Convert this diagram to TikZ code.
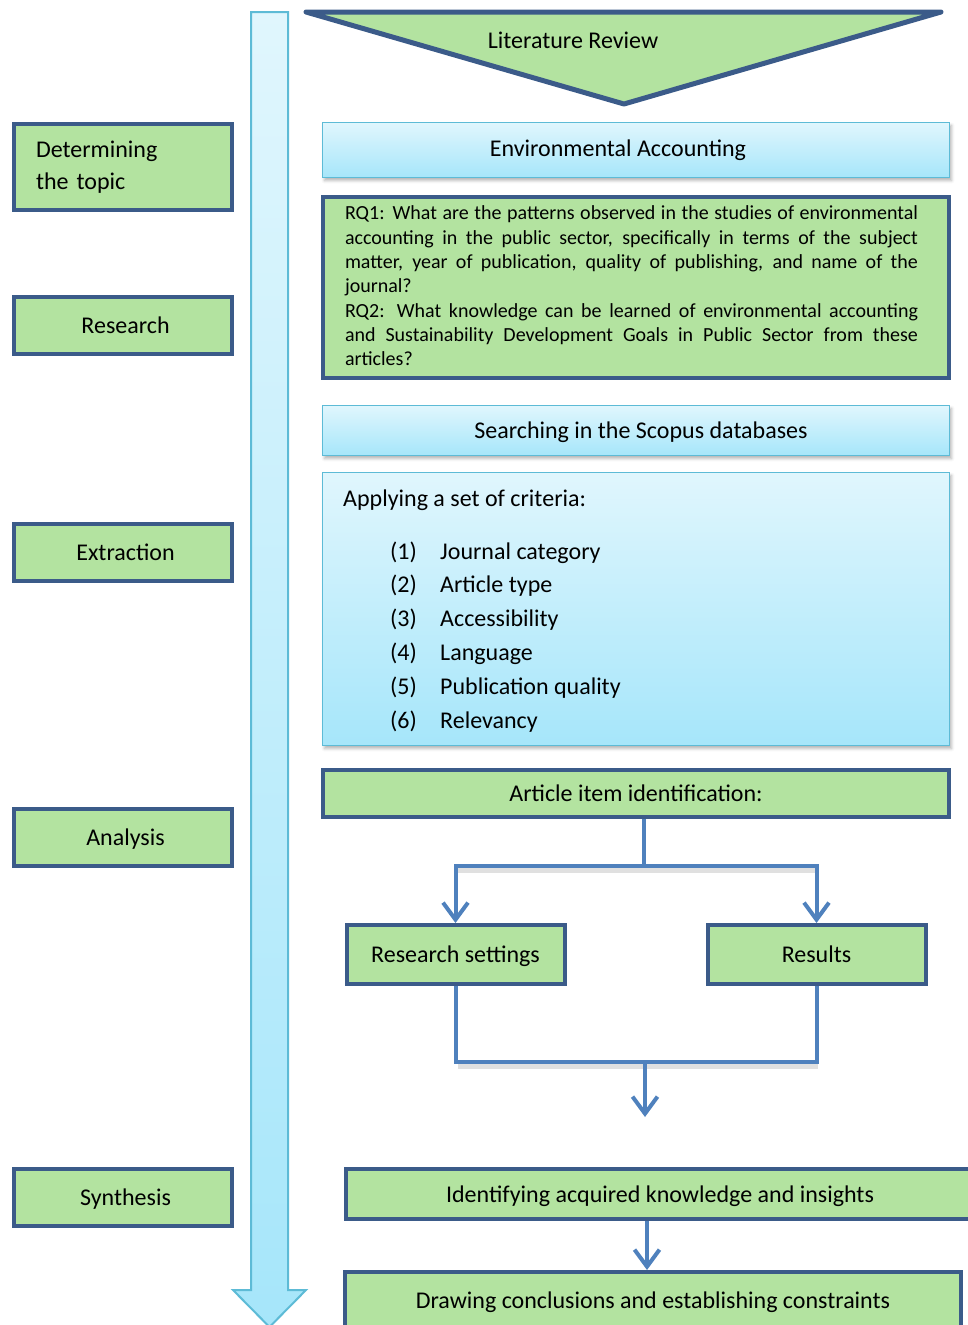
\documentclass[tikz,border=0pt]{standalone}
\usepackage{fontspec}
\setmainfont{Carlito}
\usetikzlibrary{arrows.meta,shadows.blur,calc}
\definecolor{gfill}{HTML}{B3E3A0}
\definecolor{dborder}{HTML}{3B5B89}
\definecolor{connc}{HTML}{4F81BD}
\definecolor{btop}{HTML}{E0F6FD}
\definecolor{bbot}{HTML}{A6E6FA}
\definecolor{bborder}{HTML}{5DBBD6}
\begin{document}
\begin{tikzpicture}[x=1pt,y=-1pt,
  txt/.style={font=\fontsize{24}{29}\selectfont},
  greenbox/.style={draw=dborder, line width=4pt, fill=gfill, inner sep=0pt, txt},
  onel/.style={text depth=0pt},
  bluebox/.style={draw=bborder, line width=1.5pt, top color=btop, bottom color=bbot, inner sep=0pt, txt,
     blur shadow={shadow xshift=2pt, shadow yshift=-3pt, shadow blur radius=3pt, shadow opacity=30}},
  connector/.style={draw=connc, line width=4pt},
  arrowed/.style={connector, -{Straight Barb[length=17pt,width=25pt]}},
  cshadow/.style={draw=black, opacity=0.12, line width=5pt, transform canvas={shift={(2pt,-4pt)}}},
]
\useasboundingbox (0,0) rectangle (967,1325);

% big vertical arrow
\path[draw=bborder, line width=2pt, top color=btop, bottom color=bbot]
  (251,12) -- (288,12) -- (288,1290) -- (306,1290) -- (269.5,1327) -- (233,1290) -- (251,1290) -- cycle;

% literature review triangle
\path[draw=dborder, fill=gfill, line width=5pt, line join=round]
  (306,12) -- (941,12) -- (624,104) -- cycle;
\node[txt] (lit) at (573,40) {Literature Review};

% left stage boxes
\node[greenbox, minimum height=86pt, text width=174pt, inner xsep=22pt, align=left,
      font=\fontsize{24}{32}\selectfont] (det) at (123,167) {Determining\\the topic};
\node[greenbox, onel, minimum width=218pt, minimum height=57pt] (res1) at (123,325.5) {\hspace*{5pt}Research};
\node[greenbox, onel, minimum width=218pt, minimum height=57pt] (ext) at (123,552.5) {\hspace*{5pt}Extraction};
\node[greenbox, onel, minimum width=218pt, minimum height=57pt] (ana) at (123,837.5) {\hspace*{5pt}Analysis};
\node[greenbox, onel, minimum width=218pt, minimum height=57pt] (syn) at (123,1197.5) {\hspace*{5pt}Synthesis};

% right column
\node[bluebox, minimum width=627pt, minimum height=55pt] (env) at (636,150) {\hspace*{-36pt}Environmental Accounting};

\node[greenbox, minimum width=626pt, minimum height=181pt] (rq) at (636,287.5) {};
\node[inner sep=0pt, text width=573pt, align=justify,
      font=\fontsize{20}{24.3}\selectfont] (rqtext) at (631.5,286)
 {\hyphenpenalty=10000\tolerance=9999%
  RQ1: What are the patterns observed in the studies of environmental\linebreak
  accounting in the public sector, specifically in terms of the subject\linebreak
  matter, year of publication, quality of publishing, and name of the\linebreak
  journal?\par
  RQ2: What knowledge can be learned of environmental accounting\linebreak
  and Sustainability Development Goals in Public Sector from these\linebreak
  articles?};

\node[bluebox, onel, minimum width=627pt, minimum height=50pt] (search) at (636,430.5) {\hspace*{10pt}Searching in the Scopus databases};

\node[bluebox, minimum width=627pt, minimum height=273pt] (crit) at (636,609) {};
\node[txt, anchor=base west, inner sep=0pt] (crith) at (343,506) {Applying a set of criteria:};
\foreach \i/\t [count=\k] in {1/Journal category,2/Article type,3/Accessibility,4/Language,5/Publication quality,6/Relevancy}{
  \node[txt, anchor=base west, inner sep=0pt] (cn\k) at (390,{559+33.8*(\k-1)}) {(\i)};
  \node[txt, anchor=base west, inner sep=0pt] (ct\k) at (440,{559+33.8*(\k-1)}) {\t};
}

\node[greenbox, onel, minimum width=626pt, minimum height=47pt] (aid) at (636,793.5) {Article item identification:};
\node[greenbox, onel, minimum width=218pt, minimum height=59pt] (rs) at (455.5,954.5) {Research settings};
\node[greenbox, onel, minimum width=218pt, minimum height=59pt] (rsl) at (816.5,954.5) {Results};

\node[greenbox, onel, minimum width=628pt, minimum height=50pt] (ikn) at (660,1194) {Identifying acquired knowledge and insights};
\node[greenbox, onel, minimum width=616pt, minimum height=56pt] (dcc) at (653,1300) {Drawing conclusions and establishing constraints};

% connectors
\coordinate (split) at (644,866);
\coordinate (join) at (645,1062);
\coordinate (joinend) at (645,1117);
\coordinate (lowx) at (647,0);
\draw[cshadow] (456,866) -- (816,866);
\draw[cshadow] (456,1062) -- (816,1062);
\draw[connector] (aid.south -| split) -- (split);
\draw[arrowed] (split) -| (rs.north);
\draw[arrowed] (split) -| (rsl.north);
\draw[connector, line join=miter] (rs.south) -- (rs.south |- join) -- (rsl.south |- join) -- (rsl.south);
\draw[arrowed] (join) -- (joinend);
\draw[arrowed] (ikn.south -| lowx) -- (dcc.north -| lowx);
\end{tikzpicture}
\end{document}
